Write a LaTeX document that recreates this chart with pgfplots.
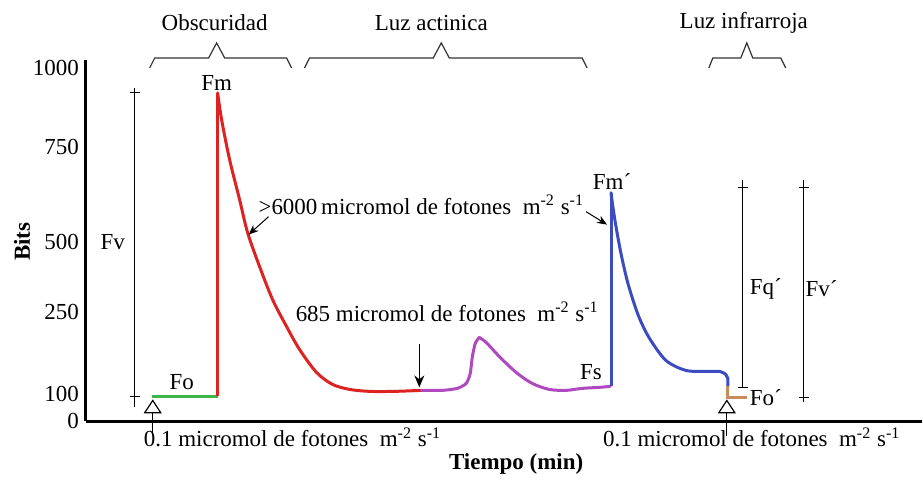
\documentclass[border=0pt]{standalone}
\usepackage{fontspec}
\setmainfont{Liberation Serif}
\usepackage{pgfplots}
\pgfplotsset{compat=1.18}
\usetikzlibrary{arrows.meta}
\definecolor{cgreen}{HTML}{3DB54A}
\definecolor{cred}{HTML}{DD2222}
\definecolor{cpurple}{HTML}{B048C0}
\definecolor{cblue}{HTML}{3B4CC0}
\definecolor{corange}{HTML}{C98A5C}
\newcommand{\units}{m\textsuperscript{-2} s\textsuperscript{-1}}
\begin{document}
\begin{tikzpicture}[font=\fontsize{11.5}{13}\selectfont]
\begin{axis}[
  x=0.5pt, y=0.5pt,
  xmin=86, xmax=923, ymin=0, ymax=362,
  axis x line=bottom, axis y line=left,
  axis line style={-, line width=1.5pt},
  xtick=\empty,
  ytick={0,27,110,180,275,354},
  yticklabels={0,100,250,500,750,1000},
  major tick length=0pt,
  /pgf/number format/assume math mode=true,
  yticklabel style={font=\fontsize{11.5}{13}\selectfont},
  clip=false,
]
% invisible frame for page size
\path (axis cs:0,-52) rectangle (axis cs:923,422);

% data curves
\addplot[cgreen, line width=1.5pt] coordinates {(152,25) (218,25)};
\addplot[cred, line width=1.5pt, line join=round] coordinates {(218,25) (218,329)};
\addplot[cred, line width=1.5pt, smooth, tension=0.5, line cap=round] coordinates {
 (218,329) (222,302) (230,262) (240,222) (248,189) (260,155)
 (273,122) (287,95) (300,72) (317,49) (333,37) (350,32) (370,30) (395,30) (422,31)};
\addplot[cpurple, line width=1.5pt, smooth, tension=0.4, line cap=round] coordinates {
 (422,31) (443,31) (458,33) (467,38) (471,48) (473,64) (476,78) (480,84)};
\addplot[cpurple, line width=1.5pt, smooth, tension=0.5, line cap=round] coordinates {
 (480,84) (487,79) (500,65) (517,49) (533,38) (550,32) (567,31) (583,33) (600,34) (611,35)};
\addplot[cblue, line width=1.5pt] coordinates {(612,35) (612,229)};
\addplot[cblue, line width=1.5pt, smooth, tension=0.5, line cap=round] coordinates {
 (612,229) (614,214) (617,195) (622,168) (629,138) (639,107)
 (650,84) (667,61) (687,51) (707,50) (721,50) (727,47)};
\addplot[cblue, line width=1.5pt] coordinates {(727,47) (729,43) (729,35)};
\addplot[corange, line width=1.5pt] coordinates {(729,35) (729,24) (748,24)};

% y label and x label
\node[rotate=90, font=\fontsize{11.5}{13}\selectfont\bfseries] at (axis cs:22,180) {Bits};
\node[font=\fontsize{11.5}{13}\selectfont\bfseries] at (axis cs:517,-43) {Tiempo (min)};

% braces
\draw[line width=0.6pt, black!80] (axis cs:150,354) -- (axis cs:155,364) -- (axis cs:209,364) -- (axis cs:217,379) -- (axis cs:225,364) -- (axis cs:287,364) -- (axis cs:292,354);
\draw[line width=0.6pt, black!80] (axis cs:305,354) -- (axis cs:310,364) -- (axis cs:434,364) -- (axis cs:442,379) -- (axis cs:450,364) -- (axis cs:583,364) -- (axis cs:588,354);
\draw[line width=0.6pt, black!80] (axis cs:710,354) -- (axis cs:714,364) -- (axis cs:742,364) -- (axis cs:748,379) -- (axis cs:754,364) -- (axis cs:782,364) -- (axis cs:787,354);
\node at (axis cs:215,399) {Obscuridad};
\node at (axis cs:432,399) {Luz actinica};
\node at (axis cs:745,399) {Luz infrarroja};

% Fv bar
\draw[line width=0.5pt] (axis cs:135,334) -- (axis cs:135,14);
\draw[line width=0.5pt] (axis cs:130,329) -- (axis cs:140,329);
\draw[line width=0.5pt] (axis cs:130,25) -- (axis cs:140,25);
\node at (axis cs:113,180) {Fv};
% Fq' bar
\draw[line width=0.5pt] (axis cs:744,242) -- (axis cs:744,34);
\draw[line width=0.5pt] (axis cs:739,234) -- (axis cs:749,234);
\draw[line width=0.5pt] (axis cs:739,34) -- (axis cs:749,34);
\node at (axis cs:767,133) {Fq´};
% Fv' bar
\draw[line width=0.5pt] (axis cs:805,242) -- (axis cs:805,19);
\draw[line width=0.5pt] (axis cs:800,234) -- (axis cs:810,234);
\draw[line width=0.5pt] (axis cs:800,24) -- (axis cs:810,24);
\node at (axis cs:823,133) {Fv´};

% point labels
\node at (axis cs:217,339) {Fm};
\node at (axis cs:182,39) {Fo};
\node at (axis cs:592,49) {Fs};
\node at (axis cs:613,240) {Fm´};
\node at (axis cs:767,24) {Fo´};

% light annotations
\node at (axis cs:422,217) {>6000\,micromol de fotones\ \ \units};
\draw[-{Stealth[length=5pt,width=4pt]}, line width=0.5pt] (axis cs:269,205) -- (axis cs:249,187);
\draw[-{Stealth[length=5pt,width=4pt]}, line width=0.5pt] (axis cs:587,210) -- (axis cs:608,197);
\node at (axis cs:448,110) {685 micromol de fotones\ \ \units};
\draw[-{Stealth[length=6pt,width=5pt]}, line width=0.6pt] (axis cs:420,77) -- (axis cs:420,34);

% 0.1 annotations with open triangles
\node at (axis cs:293,-16) {0.1 micromol de fotones\ \ \units};
\node at (axis cs:753,-16) {0.1 micromol de fotones\ \ \units};
\draw[-{Triangle[open,width=9pt,length=7pt]}, line width=0.6pt] (axis cs:153,-12) -- (axis cs:153,22);
\draw[-{Triangle[open,width=9pt,length=7pt]}, line width=0.6pt] (axis cs:728,-15) -- (axis cs:728,22);
\end{axis}
\end{tikzpicture}
\end{document}
